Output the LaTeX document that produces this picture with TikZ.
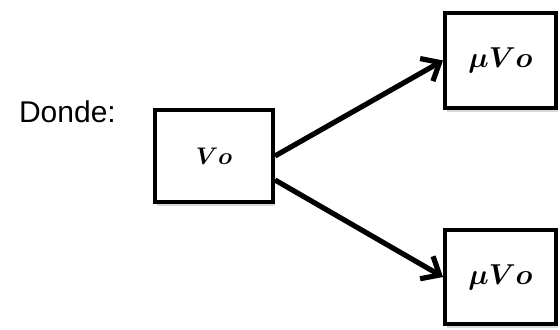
\documentclass[tikz,border=0pt]{standalone}
\usepackage{fontspec}
\usepackage{amsmath}
\setmainfont{Liberation Sans}
\usetikzlibrary{positioning, arrows.meta, shadows}

\begin{document}
\begin{tikzpicture}[x=0.5pt,y=-0.5pt,
		caja/.style={draw, line width=2pt, fill=white, inner sep=0pt,
			drop shadow={opacity=0.3, shadow xshift=1.2pt, shadow yshift=-1.8pt}},
		flecha/.style={line width=2.6pt, -{Straight Barb[length=7.5pt, width=13pt, line width=2.6pt]}}]
		\useasboundingbox (0,0) rectangle (560,330);

		\node[anchor=base west, font=\fontsize{15}{18}\selectfont] (donde) at (12,123) {Donde:};
		\node[caja, minimum width=59pt, minimum height=46pt, font=\fontsize{12.5}{15}\selectfont] (vo) at (214,156) {$\boldsymbol{Vo}$};
		\node[caja, minimum width=55.5pt, minimum height=47.5pt, font=\fontsize{14}{17}\selectfont] (arr) at (500.5,60.5) {$\boldsymbol{\mu Vo}$};
		\node[caja, minimum width=55.5pt, minimum height=47pt, font=\fontsize{14}{17}\selectfont] (abj) at (500.5,277) {$\boldsymbol{\mu Vo}$};

		\draw[flecha] (vo.east) -- (arr.west);
		\draw[flecha] ([yshift=-12pt]vo.east) -- (abj.west);
	\end{tikzpicture}
\end{document}
